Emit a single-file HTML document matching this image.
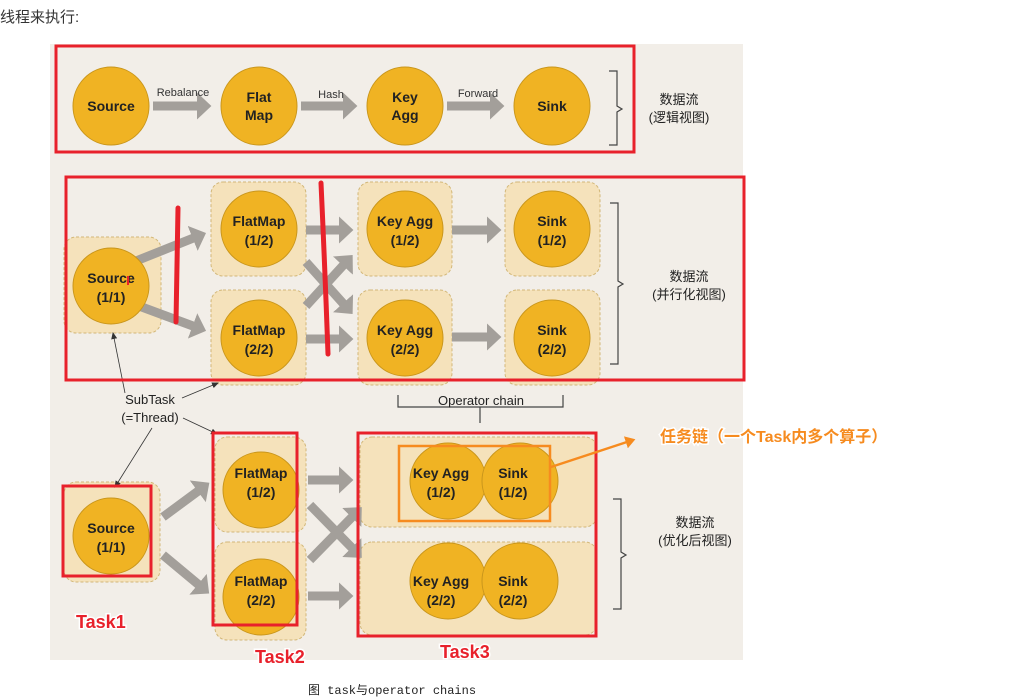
<!DOCTYPE html>
<html><head><meta charset="utf-8"><style>
body{margin:0;background:#fff;width:1016px;height:698px;overflow:hidden;}
svg{position:absolute;left:0;top:0}
text{font-family:"Liberation Sans","Noto Sans CJK SC",sans-serif;}
</style></head><body>
<svg width="1016" height="698" viewBox="0 0 1016 698">
<defs>
<marker id="ah" markerWidth="3" markerHeight="3" refX="1" refY="1.5" orient="auto" markerUnits="strokeWidth"><path d="M0,0 L1.6,1.5 L0,3 z" fill="#a39f9a"/></marker>
<marker id="sa" markerWidth="8" markerHeight="8" refX="6" refY="4" orient="auto" markerUnits="userSpaceOnUse"><path d="M0,1 L7,4 L0,7 z" fill="#333"/></marker>
<marker id="oa" markerWidth="5" markerHeight="5" refX="3" refY="2.5" orient="auto" markerUnits="strokeWidth"><path d="M0,0 L4,2.5 L0,5 z" fill="#f68b1f"/></marker>
</defs>
<text x="0" y="22" font-size="15" fill="#333">线程来执行:</text>
<rect x="50" y="44" width="693" height="616" fill="#f2eee8"/>
<g fill="#f5e2bb" stroke="#d2b778" stroke-dasharray="3,2" stroke-width="1">
<rect x="64" y="237" width="97" height="96" rx="12"/>
<rect x="211" y="182" width="95" height="94" rx="12"/>
<rect x="211" y="290" width="95" height="95" rx="12"/>
<rect x="358" y="182" width="94" height="94" rx="12"/>
<rect x="358" y="290" width="94" height="95" rx="12"/>
<rect x="505" y="182" width="95" height="94" rx="12"/>
<rect x="505" y="290" width="95" height="95" rx="12"/>
<rect x="64" y="482" width="96" height="100" rx="12"/>
<rect x="215" y="437" width="91" height="95" rx="12"/>
<rect x="215" y="542" width="91" height="98" rx="12"/>
<rect x="360" y="437" width="237" height="90" rx="12"/>
<rect x="360" y="542" width="237" height="93" rx="12"/>
</g>
<g stroke="#a39f9a" stroke-width="9" fill="none" marker-end="url(#ah)">
<line x1="153" y1="106" x2="206" y2="106"/>
<line x1="301" y1="106" x2="352" y2="106"/>
<line x1="447" y1="106" x2="499" y2="106"/>
<line x1="131" y1="263" x2="201" y2="235"/>
<line x1="131" y1="303" x2="201" y2="329"/>
<line x1="306" y1="230" x2="348" y2="230"/>
<line x1="306" y1="339" x2="348" y2="339"/>
<line x1="306" y1="262" x2="349" y2="310"/>
<line x1="306" y1="306" x2="349" y2="259"/>
<line x1="452" y1="230" x2="496" y2="230"/>
<line x1="452" y1="337" x2="496" y2="337"/>
<line x1="163" y1="517" x2="205" y2="486"/>
<line x1="163" y1="555" x2="205" y2="590"/>
<line x1="308" y1="480" x2="348" y2="480"/>
<line x1="308" y1="596" x2="348" y2="596"/>
<line x1="310" y1="505" x2="358" y2="554"/>
<line x1="310" y1="560" x2="358" y2="511"/>
</g>
<g fill="#f0b323" stroke="#c9961c" stroke-width="1">
<ellipse cx="111" cy="106" rx="38" ry="39"/>
<ellipse cx="259" cy="106" rx="38" ry="39"/>
<ellipse cx="405" cy="106" rx="38" ry="39"/>
<ellipse cx="552" cy="106" rx="38" ry="39"/>
<ellipse cx="111" cy="286" rx="38" ry="38"/>
<ellipse cx="259" cy="229" rx="38" ry="38"/>
<ellipse cx="259" cy="338" rx="38" ry="38"/>
<ellipse cx="405" cy="229" rx="38" ry="38"/>
<ellipse cx="405" cy="338" rx="38" ry="38"/>
<ellipse cx="552" cy="229" rx="38" ry="38"/>
<ellipse cx="552" cy="338" rx="38" ry="38"/>
<ellipse cx="111" cy="536" rx="38" ry="38"/>
<ellipse cx="261" cy="490" rx="38" ry="38"/>
<ellipse cx="261" cy="597" rx="38" ry="38"/>
<ellipse cx="448" cy="481" rx="38" ry="38"/>
<ellipse cx="520" cy="481" rx="38" ry="38"/>
<ellipse cx="448" cy="581" rx="38" ry="38"/>
<ellipse cx="520" cy="581" rx="38" ry="38"/>
</g>
<g font-size="14" font-weight="bold" fill="#222" text-anchor="middle">
<text x="111" y="111">Source</text>
<text x="259" y="102">Flat</text><text x="259" y="120">Map</text>
<text x="405" y="102">Key</text><text x="405" y="120">Agg</text>
<text x="552" y="111">Sink</text>
<text x="111" y="283">Source</text><text x="111" y="302">(1/1)</text>
<text x="259" y="226">FlatMap</text><text x="259" y="245">(1/2)</text>
<text x="259" y="335">FlatMap</text><text x="259" y="354">(2/2)</text>
<text x="405" y="226">Key Agg</text><text x="405" y="245">(1/2)</text>
<text x="405" y="335">Key Agg</text><text x="405" y="354">(2/2)</text>
<text x="552" y="226">Sink</text><text x="552" y="245">(1/2)</text>
<text x="552" y="335">Sink</text><text x="552" y="354">(2/2)</text>
<text x="111" y="533">Source</text><text x="111" y="552">(1/1)</text>
<text x="261" y="478">FlatMap</text><text x="261" y="497">(1/2)</text>
<text x="261" y="586">FlatMap</text><text x="261" y="605">(2/2)</text>
<text x="441" y="478">Key Agg</text><text x="441" y="497">(1/2)</text>
<text x="513" y="478">Sink</text><text x="513" y="497">(1/2)</text>
<text x="441" y="586">Key Agg</text><text x="441" y="605">(2/2)</text>
<text x="513" y="586">Sink</text><text x="513" y="605">(2/2)</text>
</g>
<g font-size="11" fill="#333" text-anchor="middle">
<text x="183" y="96">Rebalance</text>
<text x="331" y="98">Hash</text>
<text x="478" y="97">Forward</text>
</g>
<g stroke="#444" fill="none" stroke-width="1.2">
<path d="M609,71 h8 v35 l5,3 l-5,3 v33 h-8"/>
<path d="M610,203 h8 v78 l5,3 l-5,3 v77 h-8"/>
<path d="M613,499 h8 v53 l5,3 l-5,3 v51 h-8"/>
<path d="M398,395 v12 h165 v-12 M480,407 v16"/>
</g>
<g font-size="13" fill="#222" text-anchor="middle">
<text x="679" y="104">数据流</text><text x="679" y="122">(逻辑视图)</text>
<text x="689" y="281">数据流</text><text x="689" y="299">(并行化视图)</text>
<text x="695" y="527">数据流</text><text x="695" y="545">(优化后视图)</text>
<text x="481" y="405">Operator chain</text>
<text x="150" y="404">SubTask</text><text x="150" y="422">(=Thread)</text>
</g>
<g stroke="#333" stroke-width="0.8" fill="none" marker-end="url(#sa)">
<line x1="125" y1="393" x2="113" y2="333"/>
<line x1="182" y1="398" x2="218" y2="383"/>
<line x1="183" y1="418" x2="217" y2="434"/>
<line x1="152" y1="428" x2="115" y2="487"/>
</g>
<g fill="none" stroke="#e8212b" stroke-width="3">
<rect x="56" y="46" width="578" height="106"/>
<rect x="66" y="177" width="678" height="203"/>
<rect x="63" y="486" width="88" height="90"/>
<rect x="213" y="433" width="84" height="192"/>
<rect x="358" y="433" width="238" height="203"/>
</g>
<g stroke="#e8212b" stroke-width="5" stroke-linecap="round" fill="none">
<path d="M178,208 L176,322"/>
<path d="M321,183 Q325,270 328,354"/>
</g>
<rect x="127" y="276" width="2" height="9" fill="#e8212b"/>
<rect x="399" y="446" width="151" height="75" fill="none" stroke="#f68b1f" stroke-width="2.5"/>
<line x1="551" y1="467" x2="633" y2="440" stroke="#f68b1f" stroke-width="2.5" marker-end="url(#oa)"/>
<g font-weight="bold" stroke="#fff" stroke-width="3" paint-order="stroke">
<text x="660" y="442" font-size="16" fill="#f68b1f">任务链（一个Task内多个算子）</text>
<text x="76" y="628" font-size="18" fill="#e8212b">Task1</text>
<text x="255" y="663" font-size="18" fill="#e8212b">Task2</text>
<text x="440" y="658" font-size="18" fill="#e8212b">Task3</text>
</g>
<text x="308" y="694" font-size="12" fill="#222" style="font-family:'Liberation Mono','Noto Sans CJK SC',monospace">图 task与operator chains</text>
</svg>
</body></html>
